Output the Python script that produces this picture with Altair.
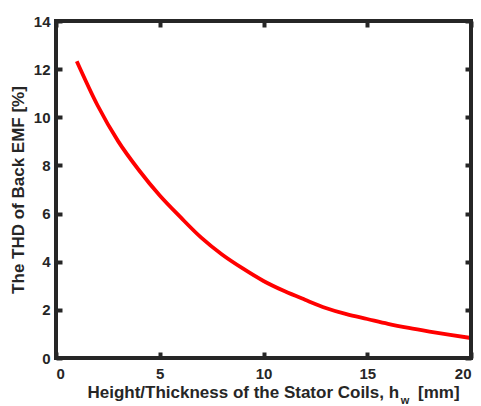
import altair as alt
import pandas as pd

# Data
x_vals = [1, 2, 3, 4, 5, 6, 7, 8, 9, 10, 11, 12, 13, 14, 15, 16, 17, 18, 19, 20]
thd_vals = [12.33, 10.5, 9.0, 7.8, 6.75, 5.85, 5.0, 4.3, 3.72, 3.2,
            2.78, 2.42, 2.08, 1.82, 1.62, 1.42, 1.25, 1.1, 0.96, 0.83]
x_ticks = [0, 5, 10, 15, 20]
y_ticks = [0, 2, 4, 6, 8, 10, 12, 14]

df = pd.DataFrame({"h": x_vals, "thd": thd_vals})
frame_df = pd.DataFrame({"x0": [0], "x1": [20], "y0": [0], "y1": [14]})

FONT = "Liberation Sans"
DARK = "#262626"
W, H = 415, 337
NB = "\u00a0"

x_scale = alt.Scale(domain=[0, 20], nice=False, zero=False)
y_scale = alt.Scale(domain=[0, 14], nice=False, zero=False)

common_axis = dict(domain=False, tickSize=6, offset=-6, tickWidth=4, tickColor=DARK,
                   grid=False, labelFont=FONT, labelFontSize=15, labelFontWeight="bold",
                   labelColor=DARK, titleFont=FONT, titleFontSize=17, titleFontWeight="bold",
                   titleColor=DARK)

line = alt.Chart(df).mark_line(color="#FF0000", strokeWidth=3.8, interpolate="monotone").encode(
    x=alt.X("h:Q", scale=x_scale,
            axis=alt.Axis(values=x_ticks, orient="bottom", labelPadding=8,
                          title="Height/Thickness of the Stator Coils, h" + NB * 3 + " [mm]",
                          titlePadding=3, titleX=217, **common_axis)),
    y=alt.Y("thd:Q", scale=y_scale,
            axis=alt.Axis(values=y_ticks, orient="left", labelPadding=6,
                          title="The THD of Back EMF [%]", titlePadding=6, **common_axis)),
)

frame_axes = alt.Chart(df).mark_line(opacity=0).encode(
    x=alt.X("h:Q", scale=x_scale,
            axis=alt.Axis(values=x_ticks, orient="top", labels=False, title=None, **common_axis)),
    y=alt.Y("thd:Q", scale=y_scale,
            axis=alt.Axis(values=y_ticks, orient="right", labels=False, title=None, **common_axis)),
)

frame = alt.Chart(frame_df).mark_rect(fillOpacity=0, stroke=DARK, strokeWidth=4).encode(
    x=alt.X("x0:Q", scale=x_scale, axis=None), x2="x1:Q",
    y=alt.Y("y0:Q", scale=y_scale, axis=None), y2="y1:Q",
)

sub_w = alt.Chart(pd.DataFrame({"t": ["w"]})).mark_text(
    font=FONT, fontSize=11, fontWeight="bold", color=DARK, align="center", baseline="alphabetic"
).encode(text="t:N", x=alt.value(349), y=alt.value(383))

chart = alt.layer(line, frame_axes, frame, sub_w).resolve_axis(
    x="independent", y="independent"
).properties(
    width=W, height=H,
    autosize=alt.AutoSizeParams(type="none"),
    padding={"left": 56, "top": 21, "right": 10, "bottom": 48},
    background="white",
).configure_view(strokeWidth=0)

chart.save("out.html", embed_options={"renderer": "svg", "actions": False})
